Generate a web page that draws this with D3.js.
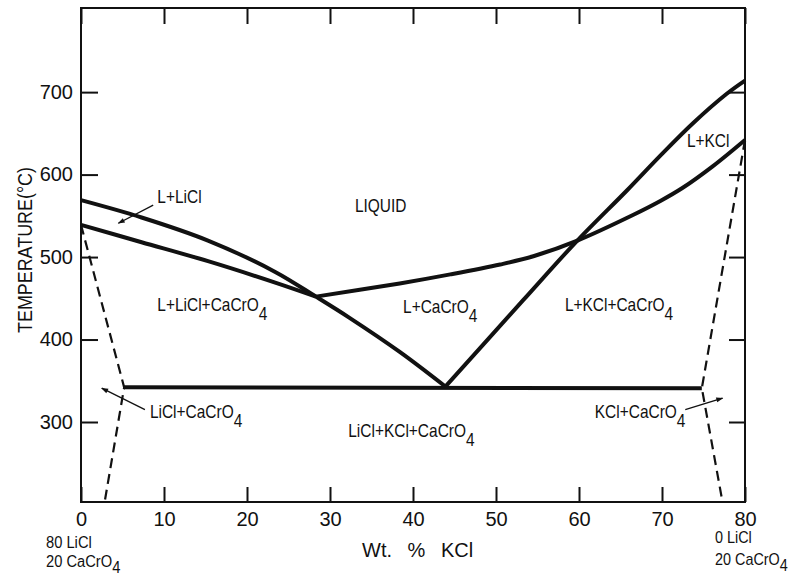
<!DOCTYPE html>
<html>
<head>
<meta charset="utf-8">
<script src="https://cdn.jsdelivr.net/npm/d3@7"></script>
<style>
body { margin: 0; background: #fff; }
svg text { font-family: "Liberation Sans", Arial, Helvetica, sans-serif; fill: #111; }
</style>
</head>
<body>
<svg id="chart" width="791" height="577"></svg>
<script>
// section 80 LiCl-20 CaCrO4 -> 80 KCl-20 CaCrO4, x = wt % KCl, y = temperature (C)
const xTicks = [0, 10, 20, 30, 40, 50, 60, 70, 80];
const tempTicks = [300, 400, 500, 600, 700];

// upper LiCl liquidus, runs down to the ternary eutectic
const liclLiquidus = [[0, 569], [7.3, 548], [15.3, 520], [23.4, 482], [28.3, 452],
    [32.4, 426], [38.4, 385], [43.9, 343]];
// L+LiCl / L+LiCl+CaCrO4 boundary
const liclCacro4 = [[0, 539], [7.3, 518], [15.3, 495], [23.4, 469], [28.3, 452]];
// CaCrO4 liquidus
const cacro4Liquidus = [[28.3, 452], [38.4, 468], [44.5, 479], [50.5, 491], [54.5, 501],
    [59.8, 520], [66.5, 551], [69.8, 568], [72.5, 584], [76.1, 610], [80, 642]];
// KCl liquidus
const kclLiquidus = [[43.9, 343], [53.3, 448], [59.8, 520], [65.8, 581], [69.8, 623],
    [73.7, 662], [77.8, 698], [80, 714]];
const eutectic = [[5.2, 342], [74.8, 341]];
const leftSolvus = [[0, 539], [5.2, 342], [2.9, 206]];
const rightSolvus = [[80, 642], [74.8, 341], [77.2, 208]];

const regionNames = ["LIQUID", "L+LiCl", "L+KCl", "L+LiCl+CaCrO4", "L+CaCrO4",
    "L+KCl+CaCrO4", "LiCl+KCl+CaCrO4", "LiCl+CaCrO4", "KCl+CaCrO4"];

// where each region name sits (wt %, C) and the arrows that point to thin fields
const regionAt = [[33, 555], [9.2, 566], [73, 633], [9.2, 435], [38.8, 432],
    [58.3, 435], [32.2, 282], [8.3, 305], [61.9, 305]];
const arrows = [[[8.7, 563], [4.5, 541]], [[7.7, 315], [2.5, 341]], [[72.8, 315], [77.3, 329]]];

const svg = d3.select("#chart");
const plotL = 81, plotR = 745, plotT = 8, plotB = 502;

const x = d3.scaleLinear().domain([0, 80]).range([plotL, plotR]);
const y = d3.scaleLinear().domain([203, 802]).range([plotB, plotT]);

svg.append("defs").append("marker")
    .attr("id", "head")
    .attr("viewBox", "0 0 10 10")
    .attr("refX", 9).attr("refY", 5)
    .attr("markerWidth", 9).attr("markerHeight", 7)
    .attr("markerUnits", "userSpaceOnUse")
    .attr("orient", "auto")
    .append("path").attr("d", "M0,1.5L10,5L0,8.5Z").attr("fill", "#111");

// axes, ticks all pointing inward
const bottomAxis = svg.append("g").attr("transform", `translate(0,${plotB})`)
    .call(d3.axisBottom(x).tickValues(xTicks).tickSize(-15).tickSizeOuter(0).tickPadding(10));
const topAxis = svg.append("g").attr("transform", `translate(0,${plotT})`)
    .call(d3.axisTop(x).tickValues(xTicks).tickSize(-16).tickSizeOuter(0).tickFormat(""));
const leftAxis = svg.append("g").attr("transform", `translate(${plotL},0)`)
    .call(d3.axisLeft(y).tickValues(tempTicks).tickSize(-17).tickSizeOuter(0).tickPadding(8));
const rightAxis = svg.append("g").attr("transform", `translate(${plotR},0)`)
    .call(d3.axisRight(y).tickValues(tempTicks).tickSize(-16).tickSizeOuter(0).tickFormat(""));

[bottomAxis, topAxis, leftAxis, rightAxis].forEach(g => {
    g.select(".domain").remove();
    g.selectAll("line").attr("stroke", "#111").attr("stroke-width", 2);
    g.selectAll("text").attr("font-size", 20).attr("fill", "#111")
        .style("font-family", "'Liberation Sans', Arial, sans-serif");
});

svg.append("rect")
    .attr("x", plotL).attr("y", plotT)
    .attr("width", plotR - plotL).attr("height", plotB - plotT)
    .attr("fill", "none").attr("stroke", "#111").attr("stroke-width", 2);

const smooth = d3.line().x(d => x(d[0])).y(d => y(d[1])).curve(d3.curveCatmullRom.alpha(0.5));
const straight = d3.line().x(d => x(d[0])).y(d => y(d[1]));

[liclLiquidus, liclCacro4, cacro4Liquidus, kclLiquidus].forEach(c => {
    svg.append("path").attr("d", smooth(c))
        .attr("fill", "none").attr("stroke", "#111")
        .attr("stroke-width", 4).attr("stroke-linejoin", "round");
});

svg.append("path").attr("d", straight(eutectic))
    .attr("fill", "none").attr("stroke", "#111").attr("stroke-width", 4);

[leftSolvus, rightSolvus].forEach(c => {
    svg.append("path").attr("d", straight(c))
        .attr("fill", "none").attr("stroke", "#111")
        .attr("stroke-width", 2.2).attr("stroke-dasharray", "10,6");
});

// write a label (narrowed like the typewriter lettering), CaCrO4 gets its 4 as subscript
function chem(px, py, str, size, sub, squeeze) {
    const g = svg.append("text")
        .attr("transform", `translate(${px},${py}) scale(${squeeze},1)`)
        .attr("font-size", size);
    const parts = str.split("CaCrO4");
    parts.forEach((p, i) => {
        if (p) g.append("tspan").text(p);
        if (i < parts.length - 1) {
            g.append("tspan").text("CaCrO");
            g.append("tspan").attr("dy", sub).text("4");
        }
    });
    return g;
}

regionNames.forEach((name, i) => {
    chem(x(regionAt[i][0]), y(regionAt[i][1]), name, 18, "0.5em", 0.86);
});

arrows.forEach(a => {
    svg.append("line")
        .attr("x1", x(a[0][0])).attr("y1", y(a[0][1]))
        .attr("x2", x(a[1][0])).attr("y2", y(a[1][1]))
        .attr("stroke", "#111").attr("stroke-width", 1.3)
        .attr("marker-end", "url(#head)");
});

// axis titles
svg.append("text")
    .attr("transform", "translate(32,250) rotate(-90)")
    .attr("text-anchor", "middle")
    .attr("font-size", 20)
    .attr("textLength", 166)
    .attr("lengthAdjust", "spacingAndGlyphs")
    .text("TEMPERATURE(\u00B0C)");

svg.append("text")
    .attr("x", 362).attr("y", 557)
    .attr("font-size", 20)
    .attr("word-spacing", 10)
    .text("Wt. % KCl");

// end-member compositions under the axis
const endLeft = ["80 LiCl", "20 CaCrO4"];
const endRight = ["0 LiCl", "20 CaCrO4"];
endLeft.forEach((s, i) => chem(x(0) - 35, 548 + i * 19, s, 16, "0.35em", 0.92));
endRight.forEach((s, i) => chem(x(80) - 30, 543 + i * 22, s, 16, "0.35em", 0.9));
</script>
</body>
</html>
